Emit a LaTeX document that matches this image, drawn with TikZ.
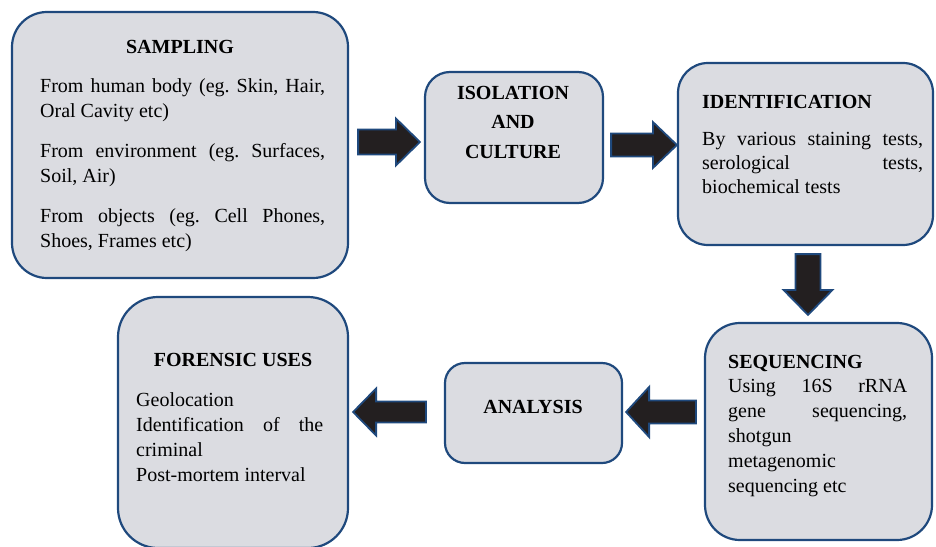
\documentclass[tikz,border=0pt]{standalone}
\usepackage{fontspec}
\setmainfont{Liberation Serif}
\usetikzlibrary{calc}
\frenchspacing
\definecolor{boxfill}{RGB}{219,220,225}
\definecolor{boxline}{RGB}{31,73,125}
\definecolor{arrowfill}{RGB}{35,31,32}
\newcommand{\blockarrow}[5]{% start, tip, headlength, shaft half width, head half width
  \coordinate (tmpH) at ($(#2)!#3!(#1)$);
  \draw[blockarr] ($(#1)!#4!90:(#2)$) -- ($(tmpH)!#4!90:(#2)$) -- ($(tmpH)!#5!90:(#2)$)
    -- (#2) -- ($(tmpH)!#5!-90:(#2)$) -- ($(tmpH)!#4!-90:(#2)$) -- ($(#1)!#4!-90:(#2)$) -- cycle;
}
\begin{document}
\begin{tikzpicture}[x=1pt,y=-1pt,
  box/.style={draw=boxline, fill=boxfill, line width=2.2pt, rectangle, inner sep=0pt},
  blockarr/.style={draw=boxline, fill=arrowfill, line width=1.8pt, line join=miter},
  head/.style={inner sep=0pt, font=\fontsize{20}{25}\selectfont\bfseries},
  txt/.style={inner sep=0pt, align=justify, font=\fontsize{20}{25}\selectfont}]
\useasboundingbox (0,0) rectangle (936,546);
% boxes
\node[box, rounded corners=35pt, minimum width=336pt, minimum height=266pt] (sam) at (180,145) {};
\node[box, rounded corners=25pt, minimum width=178pt, minimum height=131pt] (iso) at (514,137.5) {};
\node[box, rounded corners=30pt, minimum width=255pt, minimum height=182pt] (ide) at (805.5,154) {};
\node[box, rounded corners=35pt, minimum width=227pt, minimum height=217pt] (seq) at (818.5,431.5) {};
\node[box, rounded corners=20pt, minimum width=177pt, minimum height=100pt] (ana) at (533.5,413) {};
\node[box, rounded corners=40pt, minimum width=230pt, minimum height=251pt] (for) at (233,422.5) {};
% texts
\node[head, anchor=base] (samh) at (180,53) {SAMPLING};
\node[txt, text width=285pt, anchor=north west] (samt) at (40,78) {\setlength{\parskip}{15pt}%
From human body (eg. Skin, Hair,\linebreak Oral Cavity etc)\par
From environment (eg. Surfaces,\linebreak Soil, Air)\par
From objects (eg. Cell Phones,\linebreak Shoes, Frames etc)};
\node[head, align=center, anchor=north, font=\fontsize{20}{29.5}\selectfont\bfseries] (isoh) at (513,86) {ISOLATION\\AND\\CULTURE};
\node[head, anchor=base west] (ideh) at (702,108) {IDENTIFICATION};
\node[txt, text width=221pt, anchor=north west, font=\fontsize{20}{24}\selectfont] (idet) at (702,132) {By various staining tests,\linebreak serological tests,\linebreak biochemical tests};
\node[head, anchor=base west] (seqh) at (728,368) {SEQUENCING};
\node[txt, text width=179pt, anchor=north west] (seqt) at (728,379) {Using 16S rRNA\linebreak gene sequencing,\linebreak shotgun\\ metagenomic\\ sequencing etc};
\node[head, anchor=base] (anah) at (533,413) {ANALYSIS};
\node[head, anchor=base] (forh) at (233,366) {FORENSIC USES};
\node[txt, text width=187pt, anchor=north west] (fort) at (136,392) {Geolocation\\ Identification of the\linebreak criminal\\ Post-mortem interval};
% arrows
\coordinate (a1s) at ([xshift=9pt,yshift=3pt]sam.east);
\coordinate (a1e) at ([xshift=-4pt]iso.west);
\coordinate (a1t) at (a1e |- a1s);
\blockarrow{a1s}{a1t}{24pt}{12.5pt}{23.5pt}
\coordinate (a2s) at ([xshift=7pt,yshift=-7.5pt]iso.east);
\coordinate (a2t) at (ide.west |- a2s);
\blockarrow{a2s}{a2t}{24pt}{11.5pt}{23pt}
\coordinate (a3s) at ([xshift=2.5pt,yshift=-8pt]ide.south);
\coordinate (a3e) at ([yshift=7pt]seq.north);
\coordinate (a3t) at (a3s |- a3e);
\blockarrow{a3s}{a3t}{25pt}{12.5pt}{24.5pt}
\coordinate (a4s) at ([xshift=-8pt,yshift=19.5pt]seq.west);
\coordinate (a4e) at ([xshift=3pt]ana.east);
\coordinate (a4t) at (a4e |- a4s);
\blockarrow{a4s}{a4t}{23pt}{11.5pt}{25pt}
\coordinate (a5s) at ([xshift=-18pt,yshift=1pt]ana.west);
\coordinate (a5e) at ([xshift=4pt]for.east);
\coordinate (a5t) at (a5e |- a5s);
\blockarrow{a5s}{a5t}{23pt}{10.5pt}{23.5pt}
\end{tikzpicture}
\end{document}
